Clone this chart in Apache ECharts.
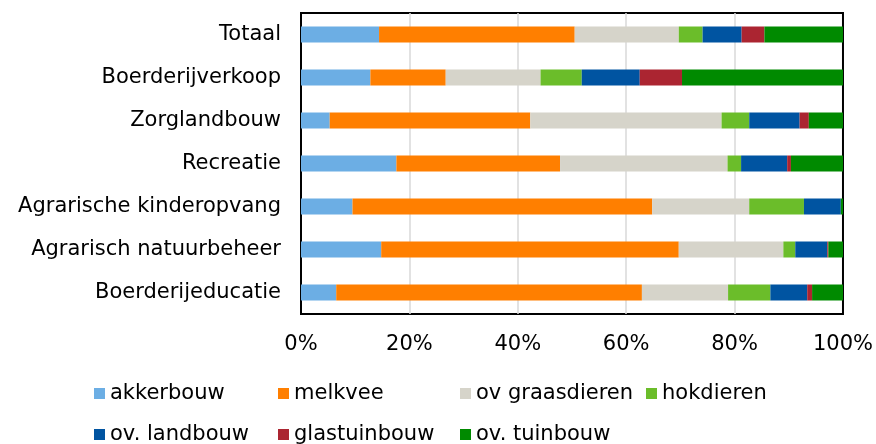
<!DOCTYPE html>
<html>
<head>
<meta charset="utf-8">
<script src="https://cdn.jsdelivr.net/npm/echarts@6/dist/echarts.min.js"></script>
<style>html,body{margin:0;padding:0;background:#fff;}#c{width:876px;height:444px;}</style>
</head>
<body>
<div id="c"></div>
<script>
const categories = ["Totaal","Boerderijverkoop","Zorglandbouw","Recreatie","Agrarische kinderopvang","Agrarisch natuurbeheer","Boerderijeducatie"];
const seriesNames = ["akkerbouw","melkvee","ov graasdieren","hokdieren","ov. landbouw","glastuinbouw","ov. tuinbouw"];
const akkerbouw     = [14.4, 12.8,  5.3, 17.6,  9.5, 14.8,  6.5];
const melkvee       = [36.1, 13.9, 37.0, 30.2, 55.3, 54.9, 56.4];
const ovGraasdieren = [19.2, 17.5, 35.3, 30.9, 17.9, 19.3, 15.9];
const hokdieren     = [ 4.4,  7.6,  5.1,  2.5, 10.1,  2.2,  7.8];
const ovLandbouw    = [ 7.2, 10.7,  9.3,  8.5,  6.8,  5.9,  6.8];
const glastuinbouw  = [ 4.2,  7.8,  1.7,  0.7,  0.0,  0.2,  0.9];
const ovTuinbouw    = [14.5, 29.7,  6.3,  9.6,  0.4,  2.7,  5.7];
const xTicks = [0, 20, 40, 60, 80, 100];
const colors = ["#6CAEE4","#FF7F00","#D6D4CA","#6BBD2A","#0054A1","#AB2531","#008A00"];
const values = [akkerbouw, melkvee, ovGraasdieren, hokdieren, ovLandbouw, glastuinbouw, ovTuinbouw];

const font = "DejaVu Sans";
const chart = echarts.init(document.getElementById('c'), null, {renderer:'canvas'});
const legendText = {fontFamily: font, fontSize: 21, color: '#000'};
const legendLeft = [94, 278, 460, 646, 94, 278, 460];
const legendTop  = [383, 383, 383, 383, 424, 424, 424];
chart.setOption({
  animation: false,
  grid: {left: 301, right: 33, top: 13, bottom: 130, show: true, borderColor: '#000', borderWidth: 2, backgroundColor: 'transparent'},
  xAxis: {
    type: 'value', min: 0, max: 100, interval: 20,
    axisLine: {show: false}, axisTick: {show: false},
    splitLine: {show: true, showMinLine: false, showMaxLine: false, lineStyle: {color: '#D9D9D9', width: 1.5}},
    axisLabel: {formatter: v => xTicks.includes(v) ? v + '%' : '', fontFamily: font, fontSize: 21, color: '#000', margin: 20}
  },
  yAxis: {
    type: 'category', data: categories, inverse: true,
    axisLine: {show: false}, axisTick: {show: false},
    axisLabel: {fontFamily: font, fontSize: 21, color: '#000', margin: 20}
  },
  legend: seriesNames.map((n, i) => ({
    data: [n], left: legendLeft[i], top: legendTop[i], itemWidth: 11, itemHeight: 11,
    icon: 'rect', textStyle: legendText, selectedMode: false, padding: 0
  })),
  series: seriesNames.map((n, i) => ({
    name: n, type: 'bar', stack: 'total', barWidth: 16,
    data: values[i],
    itemStyle: {color: colors[i]}
  }))
});
</script>
</body>
</html>
